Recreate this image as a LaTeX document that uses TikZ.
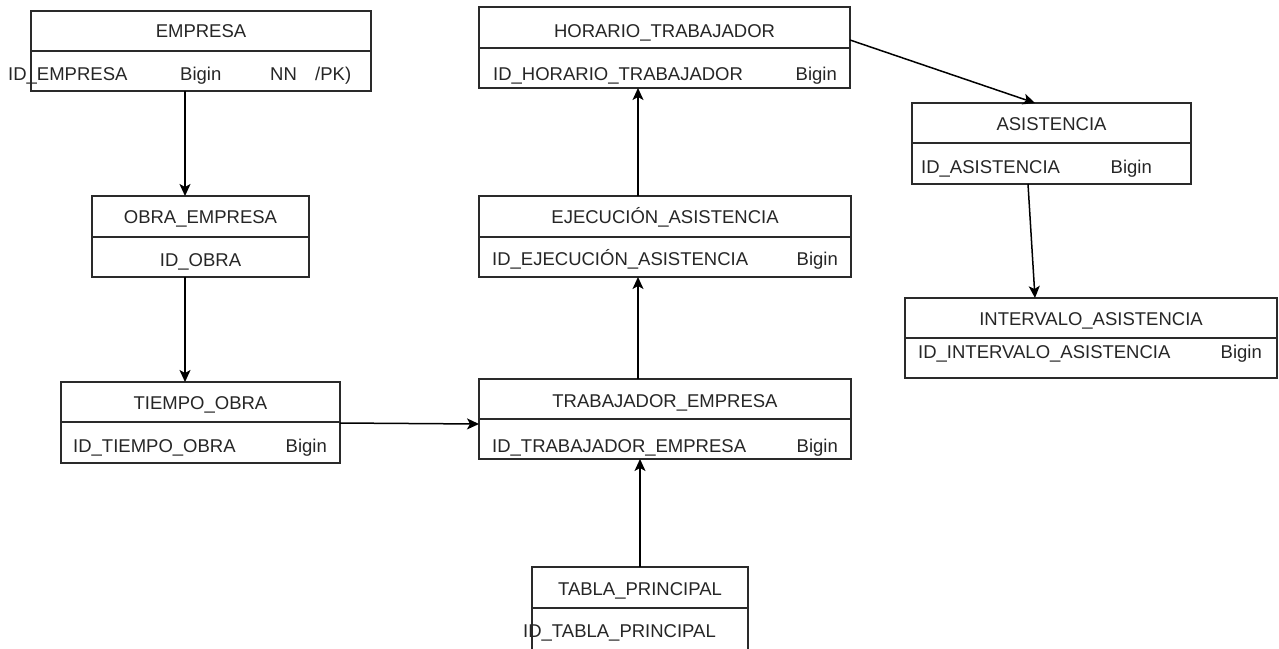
\documentclass[tikz,border=0pt]{standalone}
\usepackage{fontspec}
\setmainfont{Liberation Sans}
\usetikzlibrary{arrows.meta,calc}
\definecolor{linec}{HTML}{2A2A2A}
\definecolor{textc}{HTML}{262626}
\begin{document}
\begin{tikzpicture}[x=1pt,y=-1pt,
  tbl/.style={draw=linec,line width=1.8pt,anchor=north west,inner sep=0pt,outer sep=0pt},
  txt/.style={inner sep=0pt,text=textc,font=\fontsize{18.5}{20}\selectfont},
  divl/.style={draw=linec,line width=1.8pt},
  conn/.style={draw=black,line width=1.5pt,-{Stealth[length=12pt,width=11pt,inset=3pt]}}]
\useasboundingbox[fill=white] (0,0) rectangle (1279,648);
% EMPRESA
\node[tbl,minimum width=340pt,minimum height=80pt] (emp) at (31,11) {};
\draw[divl] (31,51) -- (371,51);
\node[txt,anchor=base] (empT) at (201,37) {EMPRESA};
\node[txt,anchor=base west] (empA) at (8,80) {ID\_EMPRESA};
\node[txt,anchor=base west] (empB) at (180,80) {Bigin};
\node[txt,anchor=base west] (empC) at (270,80) {NN};
\node[txt,anchor=base west] (empD) at (315,80) {/PK)};
% OBRA_EMPRESA
\node[tbl,minimum width=217pt,minimum height=81pt] (obra) at (92,196) {};
\draw[divl] (92,237) -- (309,237);
\node[txt,anchor=base] (obraT) at (200.5,223) {OBRA\_EMPRESA};
\node[txt,anchor=base] (obraA) at (200.5,266) {ID\_OBRA};
% TIEMPO_OBRA
\node[tbl,minimum width=279pt,minimum height=81pt] (tiem) at (61,382) {};
\draw[divl] (61,422) -- (340,422);
\node[txt,anchor=base] (tiemT) at (200.5,409) {TIEMPO\_OBRA};
\node[txt,anchor=base west] (tiemA) at (73,452) {ID\_TIEMPO\_OBRA};
\node[txt,anchor=base east] (tiemB) at (327,452) {Bigin};
% HORARIO_TRABAJADOR
\node[tbl,minimum width=371pt,minimum height=81pt] (hor) at (479,7) {};
\draw[divl] (479,48) -- (850,48);
\node[txt,anchor=base] (horT) at (664.5,37) {HORARIO\_TRABAJADOR};
\node[txt,anchor=base west] (horA) at (493,80) {ID\_HORARIO\_TRABAJADOR};
\node[txt,anchor=base east] (horB) at (837,80) {Bigin};
% EJECUCION_ASISTENCIA
\node[tbl,minimum width=372pt,minimum height=81pt] (ejec) at (479,196) {};
\draw[divl] (479,237) -- (851,237);
\node[txt,anchor=base] (ejecT) at (665,223) {EJECUCIÓN\_ASISTENCIA};
\node[txt,anchor=base west] (ejecA) at (492,265) {ID\_EJECUCIÓN\_ASISTENCIA};
\node[txt,anchor=base east] (ejecB) at (838,265) {Bigin};
% TRABAJADOR_EMPRESA
\node[tbl,minimum width=372pt,minimum height=80pt] (trab) at (479,379) {};
\draw[divl] (479,419) -- (851,419);
\node[txt,anchor=base] (trabT) at (665,407) {TRABAJADOR\_EMPRESA};
\node[txt,anchor=base west] (trabA) at (492,452) {ID\_TRABAJADOR\_EMPRESA};
\node[txt,anchor=base east] (trabB) at (838,452) {Bigin};
% TABLA_PRINCIPAL
\node[tbl,minimum width=216pt,minimum height=83pt] (tabla) at (532,567) {};
\draw[divl] (532,608) -- (748,608);
\node[txt,anchor=base] (tablaT) at (640,595) {TABLA\_PRINCIPAL};
\node[txt,anchor=base west] (tablaA) at (523,637) {ID\_TABLA\_PRINCIPAL};
% ASISTENCIA
\node[tbl,minimum width=279pt,minimum height=81pt] (asis) at (912,103) {};
\draw[divl] (912,143) -- (1191,143);
\node[txt,anchor=base] (asisT) at (1051.5,130) {ASISTENCIA};
\node[txt,anchor=base west] (asisA) at (921,173) {ID\_ASISTENCIA};
\node[txt,anchor=base east] (asisB) at (1152,173) {Bigin};
% INTERVALO_ASISTENCIA
\node[tbl,minimum width=372pt,minimum height=80pt] (intv) at (905,298) {};
\draw[divl] (905,338) -- (1277,338);
\node[txt,anchor=base] (intvT) at (1091,325) {INTERVALO\_ASISTENCIA};
\node[txt,anchor=base west] (intvA) at (918,358) {ID\_INTERVALO\_ASISTENCIA};
\node[txt,anchor=base east] (intvB) at (1262,358) {Bigin};
% connectors
\draw[conn] ($(emp.south west)+(154,0)$) -- ($(obra.north west)+(93,0)$);
\draw[conn] ($(obra.south west)+(93,0)$) -- ($(tiem.north west)+(124,0)$);
\draw[conn] ($(tiem.north east)+(0,41)$) -- ($(trab.north west)+(0,45)$);
\draw[conn] ($(trab.north west)+(159,0)$) -- ($(ejec.south west)+(159,0)$);
\draw[conn] ($(ejec.north west)+(159,0)$) -- ($(hor.south west)+(159,0)$);
\draw[conn] ($(tabla.north west)+(108,0)$) -- ($(trab.south west)+(161,0)$);
\draw[conn] ($(hor.north east)+(0,33)$) -- ($(asis.north west)+(123,0)$);
\draw[conn] ($(asis.south west)+(116,0)$) -- ($(intv.north west)+(130,0)$);
\end{tikzpicture}
\end{document}
